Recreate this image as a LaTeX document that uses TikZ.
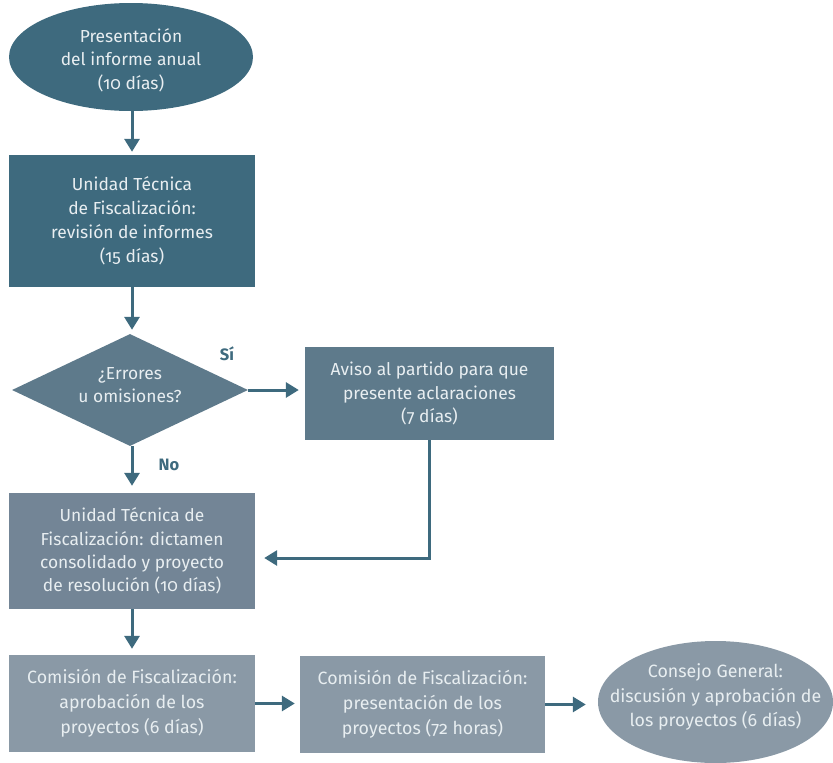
\documentclass[tikz,border=0pt]{standalone}
\usepackage{fontspec}
\setmainfont{Fira Sans}[Numbers=OldStyle]
\usetikzlibrary{shapes.geometric,arrows.meta}

\definecolor{deep}{HTML}{3E6A7E}
\definecolor{mid}{HTML}{5E7A8B}
\definecolor{soft}{HTML}{738596}
\definecolor{pale}{HTML}{8A99A6}
\definecolor{ink}{HTML}{E8EEF1}

\tikzset{
  txt/.style={text=ink, align=center, inner sep=0pt,
    font=\fontsize{17.4}{23.3}\selectfont},
  wide/.style={font=\fontsize{17.8}{24.8}\selectfont},
  box/.style={txt, rectangle, draw=none},
  oval/.style={txt, ellipse, draw=none, inner sep=0pt},
  rhomb/.style={txt, diamond, draw=none, aspect=2.1},
  % text set inside a shape, moved up or down from its centre
  inside/.style args={#1:#2}{label={[txt,yshift=#1]center:{#2}}},
  arr/.style={draw=deep, line width=3pt,
    -{Triangle[length=13pt,width=15pt]}, shorten >=5pt},
  tag/.style={text=deep, font=\fontsize{16.5}{20}\selectfont\bfseries}
}

\begin{document}
\begin{tikzpicture}[x=1pt,y=1pt]
\useasboundingbox (0,0) rectangle (833,-763);

% process steps
\node[oval, fill=deep, minimum width=244pt, minimum height=108pt,
  inside={-3pt:Presentación\\del informe anual\\(10 días)}] (start) at (131,-57) {};
\node[box, fill=deep, minimum width=246pt, minimum height=132pt,
  font=\fontsize{17.4}{24}\selectfont] (review) at (132,-221)
  {Unidad Técnica\\de Fiscalización:\\revisión de informes\\(15 días)};
\node[rhomb, fill=mid, minimum width=236pt, minimum height=112pt,
  inside={5pt:¿Errores\\u omisiones?}] (check) at (130,-390) {};
\node[box, fill=mid, minimum width=249pt, minimum height=93pt] (notice) at (429.5,-393.5)
  {Aviso al partido para que\\presente aclaraciones\\(7 días)};
\node[box, fill=soft, minimum width=246pt, minimum height=116pt] (ruling) at (132,-551)
  {Unidad Técnica de\\Fiscalización: dictamen\\consolidado y proyecto\\de resolución (10 días)};
\node[box, wide, fill=pale, minimum width=246pt, minimum height=97pt] (approve) at (132,-703.5)
  {Comisión de Fiscalización:\\aprobación de los\\proyectos (6 días)};
\node[box, wide, fill=pale, minimum width=245pt, minimum height=97pt] (present) at (422.5,-704.5)
  {Comisión de Fiscalización:\\presentación de los\\proyectos (72 horas)};
\node[oval, fill=pale, minimum width=235pt, minimum height=122pt,
  label={[txt,wide,font=\fontsize{17.8}{24.5}\selectfont,yshift=5pt]center:{Consejo General:\\discusión y aprobación de\\los proyectos (6 días)}}]
  (council) at (715.5,-702) {};

% branch labels
\node[tag] (yes) at (227,-354) {Sí};
\node[tag] (no) at (169,-465) {No};

% connectors
\draw[arr, shorten >=3pt] (start.south -| review.north) -- (review.north);
\draw[arr, shorten >=4pt] (review.south) -- (review.south |- check.north);
\draw[arr, shorten >=7pt] (check.south -| ruling.north) -- (ruling.north);
\draw[arr, shorten >=6pt] (check.east) -- (check.east -| notice.west);
\draw[arr, shorten >=9pt] (notice.south) |- ([yshift=-7pt]ruling.east);
\draw[arr, shorten >=6pt] (ruling.south) -- (approve.north);
\draw[arr] (approve.east) -- (approve.east -| present.west);
\draw[arr, shorten >=12pt] (present.east) -- (present.east -| council.west);
\end{tikzpicture}
\end{document}
